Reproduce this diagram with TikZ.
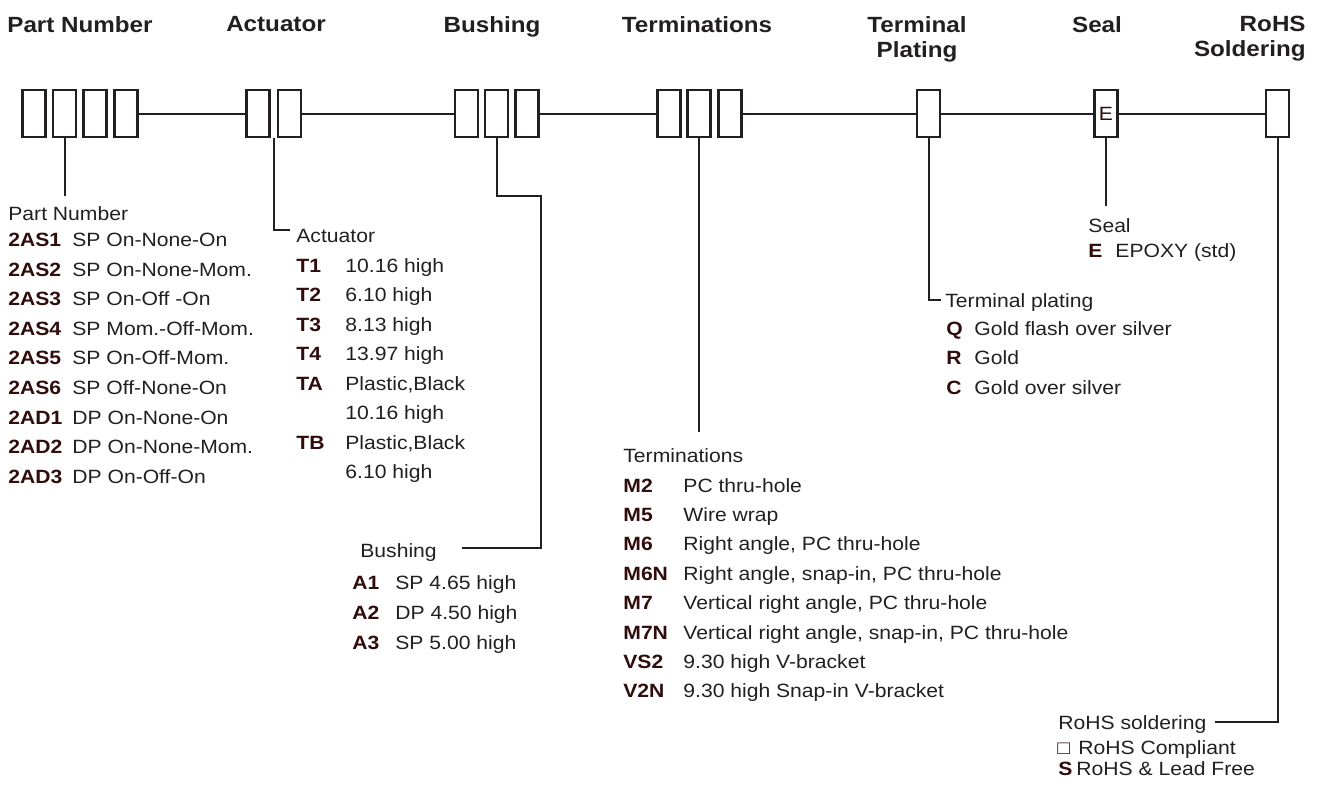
\documentclass[tikz,border=0pt]{standalone}
\usepackage{fontspec}
\setmainfont[FakeStretch=1.1]{Liberation Sans}
\usetikzlibrary{calc,positioning}
\definecolor{txtgray}{RGB}{35,31,32}
\definecolor{codered}{RGB}{48,12,12}
\tikzset{
    mybox/.style={draw=txtgray,fill=white,line width=1.1pt,minimum width=11.5pt,minimum height=23.5pt,inner sep=0pt},
    myline/.style={draw=txtgray,line width=1pt},
    myhead/.style={anchor=north,inner sep=0pt,text=txtgray,font=\fontsize{11}{12.5}\selectfont\bfseries},
    mytext/.style={anchor=base west,inner sep=0pt,text=txtgray,font=\fontsize{9.6}{11}\selectfont},
    mycode/.style={mytext,text=codered,font=\fontsize{9.6}{11}\selectfont\bfseries}
}
\begin{document}
\begin{tikzpicture}[x=0.5pt,y=-0.5pt]
  \useasboundingbox (0,0) rectangle (1320,788);
  % code boxes
  \foreach \n/\x in {pna/34,pnb/64.5,pnc/95,pnd/126,aca/258,acb/289.5,bua/466.5,bub/496.5,buc/527,tea/669,teb/699,tec/730,tp/928.5,sl/1106,rh/1277.5}
    \node[mybox] (\n) at (\x,113.5) {};
  \node[mytext,anchor=center,text=codered] (slE) at (sl) {E};
  \draw[myline] (pnd) -- (aca) (acb) -- (bua) (buc) -- (tea) (tec) -- (tp) (tp) -- (sl) (sl) -- (rh);
  % headings
  \node[myhead] (hpn) at (80,16) {Part Number};
  \node[myhead] (hac) at (276,16) {Actuator};
  \node[myhead] (hbu) at (492,16) {Bushing};
  \node[myhead] (hte) at (697,16) {Terminations};
  \node[myhead,align=center] (htp) at (917,16) {Terminal\\Plating};
  \node[myhead] (hsl) at (1097,16) {Seal};
  \node[myhead,align=right,anchor=north east] (hrh) at (1306,16) {RoHS\\Soldering};
  % part number
  \node[mytext] (pnlab) at (8,220) {Part Number};
  \foreach \c/\d [count=\i from 0] in {2AS1/SP On-None-On,2AS2/SP On-None-Mom.,2AS3/SP On-Off -On,2AS4/SP Mom.-Off-Mom.,2AS5/SP On-Off-Mom.,2AS6/SP Off-None-On,2AD1/DP On-None-On,2AD2/DP On-None-Mom.,2AD3/DP On-Off-On}{
    \node[mycode] (pncode\i) at (8,246.5+29.6*\i) {\c};
    \node[mytext] (pndesc\i) at (72,246.5+29.6*\i) {\d};
  }
  % actuator
  \node[mytext] (aclab) at (296,242) {Actuator};
  \foreach \c/\d [count=\i from 0] in {T1/10.16 high,T2/6.10 high,T3/8.13 high,T4/13.97 high,TA/{Plastic,Black},/10.16 high,TB/{Plastic,Black},/6.10 high}{
    \node[mycode] (accode\i) at (296,272+29.5*\i) {\c};
    \node[mytext] (acdesc\i) at (345,272+29.5*\i) {\d};
  }
  % bushing
  \node[mytext] (bulab) at (360,557) {Bushing};
  \foreach \c/\d [count=\i from 0] in {A1/SP 4.65 high,A2/DP 4.50 high,A3/SP 5.00 high}{
    \node[mycode] (bucode\i) at (352,589+30*\i) {\c};
    \node[mytext] (budesc\i) at (395,589+30*\i) {\d};
  }
  % terminations
  \node[mytext] (telab) at (623,462) {Terminations};
  \foreach \c/\d [count=\i from 0] in {M2/PC thru-hole,M5/Wire wrap,M6/{Right angle, PC thru-hole},M6N/{Right angle, snap-in, PC thru-hole},M7/{Vertical right angle, PC thru-hole},M7N/{Vertical right angle, snap-in, PC thru-hole},VS2/9.30 high V-bracket,V2N/9.30 high Snap-in V-bracket}{
    \node[mycode] (tecode\i) at (623,492+29.4*\i) {\c};
    \node[mytext] (tedesc\i) at (683,492+29.4*\i) {\d};
  }
  % terminal plating
  \node[mytext] (tplab) at (945,307) {Terminal plating};
  \foreach \c/\d [count=\i from 0] in {Q/Gold flash over silver,R/Gold,C/Gold over silver}{
    \node[mycode] (tpcode\i) at (946,335+29.5*\i) {\c};
    \node[mytext] (tpdesc\i) at (974,335+29.5*\i) {\d};
  }
  % seal
  \node[mytext] (sllab) at (1088,232) {Seal};
  \node[mycode] (slcode) at (1088,257) {E};
  \node[mytext] (sldesc) at (1115,257) {EPOXY (std)};
  % rohs
  \node[mytext] (rhlab) at (1058,729) {RoHS soldering};
  \node[mytext,text=codered] (rhcode0) at (1057,754) {□};
  \node[mytext] (rhdesc0) at (1078,754) {RoHS Compliant};
  \node[mycode] (rhcode1) at (1058,775) {S};
  \node[mytext] (rhdesc1) at (1076,775) {RoHS \& Lead Free};
  % leaders
  \coordinate (pnend) at (64.5,196);
  \coordinate (acend) at (290,230);
  \coordinate (buend) at (462,548);
  \coordinate (teend) at (699,432);
  \coordinate (tpend) at (941,300);
  \coordinate (slend) at (1106,206);
  \coordinate (rhend) at (1215,722);
  \draw[myline] (pnb.south) -- (pnend);
  \draw[myline] ($(aca.south east)!.5!(acb.south west)$) |- (acend);
  \draw[myline] (bub.south) -- ++(0,58) -| (541,548) -- (buend);
  \draw[myline] (teb.south) -- (teend);
  \draw[myline] (tp.south) |- (tpend);
  \draw[myline] (sl.south) -- (slend);
  \draw[myline] (rh.south) |- (rhend);
\end{tikzpicture}
\end{document}
